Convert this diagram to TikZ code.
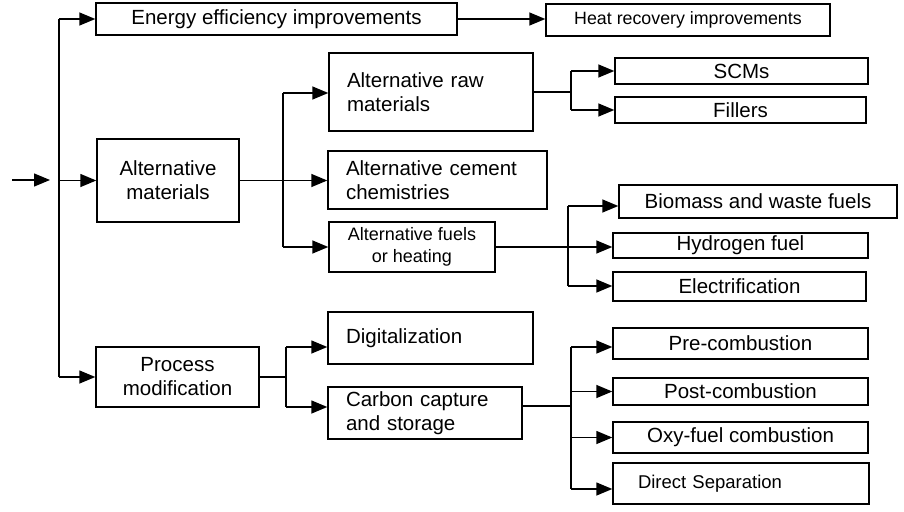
\documentclass[tikz,border=0pt]{standalone}
\usepackage{fontspec}
\setmainfont{Liberation Sans}
\usetikzlibrary{arrows.meta}
\begin{document}
\begin{tikzpicture}[x=1pt,y=-1pt,
  box/.style={draw, line width=1.4pt, inner sep=0pt, align=center, font=\fontsize{20.5}{24}\selectfont},
  lbox/.style={box, align=left, inner xsep=18pt},
  hbox/.style={box, font=\fontsize{17.8}{21}\selectfont},
  fbox/.style={box, font=\fontsize{18}{22}\selectfont},
  dbox/.style={box, align=left, inner xsep=25pt, font=\fontsize{18.5}{22}\selectfont},
  conn/.style={line width=1.4pt},
  arr/.style={conn, -{Triangle[length=16pt,width=13pt]}}]
\useasboundingbox (0,0) rectangle (904,511);

% boxes
\node[box, minimum width=361pt, minimum height=32pt] (energy) at (276.5,19) {Energy efficiency improvements};
\node[hbox, minimum width=284pt, minimum height=32pt] (heat) at (688,20) {Heat recovery improvements};
\node[box, minimum width=142pt, minimum height=83pt] (altmat) at (168,180.5) {Alternative\\materials};
\node[lbox, text width=168pt, minimum height=78pt] (altraw) at (431,92) {Alternative raw\\materials};
\node[lbox, text width=183pt, minimum height=58pt] (altcem) at (437.5,180) {Alternative cement\\chemistries};
\node[fbox, minimum width=166pt, minimum height=50pt] (altfuel) at (412,247) {Alternative fuels\\or heating};
\node[box, minimum width=253pt, minimum height=26pt] (scm) at (741.5,71) {SCMs};
\node[box, minimum width=251pt, minimum height=26pt] (fill) at (740.5,110) {Fillers};
\node[box, minimum width=278pt, minimum height=33pt] (bio) at (758,201.5) {Biomass and waste fuels};
\node[box, minimum width=255pt, minimum height=25pt] (hyd) at (740.5,245.5) {Hydrogen fuel};
\node[box, minimum width=253pt, minimum height=29pt] (elec) at (739.5,286.5) {Electrification};
\node[box, minimum width=163pt, minimum height=60pt] (proc) at (177.5,377) {Process\\modification};
\node[lbox, text width=169pt, minimum height=52pt] (dig) at (430.5,338) {Digitalization};
\node[lbox, text width=158pt, minimum height=52pt] (ccs) at (425,413) {Carbon capture\\and storage};
\node[box, minimum width=255pt, minimum height=31pt] (pre) at (740.5,343.5) {Pre-combustion};
\node[box, minimum width=255pt, minimum height=27pt] (post) at (740.5,391.5) {Post-combustion};
\node[box, minimum width=255pt, minimum height=31pt] (oxy) at (740.5,437.5) {Oxy-fuel combustion};
\node[dbox, text width=206pt, minimum height=41pt] (dir) at (741,483.5) {Direct Separation};

% entry and trunk
\coordinate (in0) at (12,180);
\coordinate (in1) at (50,180);
\draw[arr] (in0) -- (in1);
\coordinate (tTop) at (59,19);
\coordinate (tMid) at (59,180.5);
\coordinate (tBot) at (59,377);
\draw[conn] (tTop) -- (tBot);
\draw[arr] (tTop) -- (energy.west);
\draw[arr] (tMid) -- (altmat.west);
\draw[arr] (tBot) -- (proc.west);
\draw[arr] (energy.east) -- (heat.west |- energy.east);

% alternative materials branch
\coordinate (b2t) at (283,93);
\coordinate (b2b) at (283,247);
\draw[conn] (b2t) -- (b2b);
\draw[arr] (b2t) -- (b2t -| altraw.west);
\draw[arr] (altmat.east) -- (altmat.east -| altcem.west);
\draw[arr] (b2b) -- (b2b -| altfuel.west);

% raw materials branch
\coordinate (b3m) at (571,92);
\coordinate (b3t) at (571,71);
\coordinate (b3b) at (571,110);
\draw[conn] (altraw.east) -- (b3m);
\draw[conn] (b3t) -- (b3b);
\draw[arr] (b3t) -- (scm.west);
\draw[arr] (b3b) -- (fill.west);

% fuels branch
\coordinate (b4t) at (568,206);
\coordinate (b4b) at (568,286);
\draw[arr] (altfuel.east) -- (altfuel.east -| hyd.west);
\draw[conn] (b4t) -- (b4b);
\draw[arr] (b4t) -- (b4t -| bio.west);
\draw[arr] (b4b) -- (b4b -| elec.west);

% process branch
\coordinate (b5m) at (286,377);
\coordinate (b5t) at (286,347);
\coordinate (b5b) at (286,407);
\draw[conn] (proc.east) -- (b5m);
\draw[conn] (b5t) -- (b5b);
\draw[arr] (b5t) -- (b5t -| dig.west);
\draw[arr] (b5b) -- (b5b -| ccs.west);

% CCS branch
\coordinate (b6m) at (571,406);
\coordinate (b6t) at (571,347);
\coordinate (b6b) at (571,489);
\draw[conn] (ccs.east |- b6m) -- (b6m);
\draw[conn] (b6t) -- (b6b);
\draw[arr] (b6t) -- (b6t -| pre.west);
\draw[arr] (b6t |- post.west) -- (post.west);
\draw[arr] (b6t |- oxy.west) -- (oxy.west);
\draw[arr] (b6b) -- (b6b -| dir.west);
\end{tikzpicture}
\end{document}
